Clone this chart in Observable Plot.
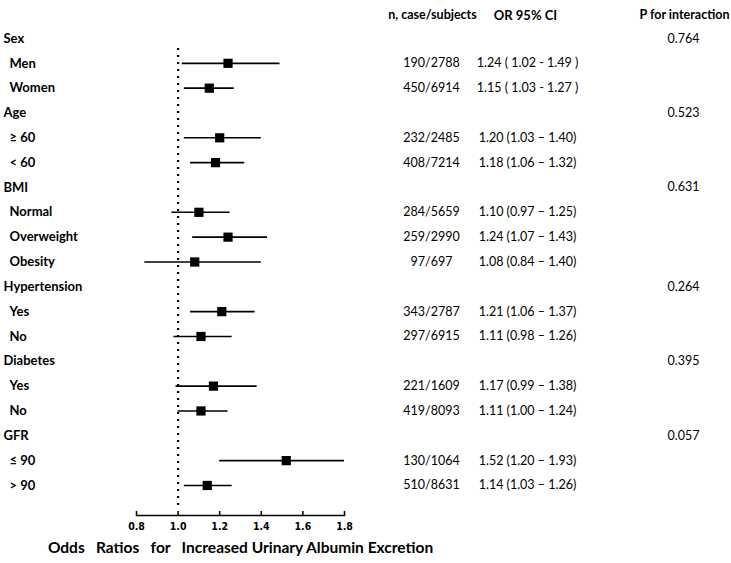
<!DOCTYPE html>
<html>
<head>
<meta charset="utf-8">
<script src="https://cdn.jsdelivr.net/npm/d3@7"></script>
<script src="https://cdn.jsdelivr.net/npm/@observablehq/plot@0.6"></script>
<style>
  html, body { margin: 0; padding: 0; background: #fff; }
  svg text { white-space: pre; }
  g[aria-label="x-axis tick label"], g[aria-label="x-axis tick label"] text {
    font-family: 'DejaVu Sans', sans-serif !important;
    font-stretch: condensed;
  }
</style>
</head>
<body>
<div id="chart"></div>
<script>
// ---- data ----
const rowLabels = ["Sex", "Men", "Women", "Age", "≥ 60", "< 60", "BMI", "Normal", "Overweight", "Obesity",
  "Hypertension", "Yes", "No", "Diabetes", "Yes", "No", "GFR", "≤ 90", "> 90"];
const isGroup = [true, false, false, true, false, false, true, false, false, false,
  true, false, false, true, false, false, true, false, false];
const orValues = [null, 1.24, 1.15, null, 1.20, 1.18, null, 1.10, 1.24, 1.08, null, 1.21, 1.11, null, 1.17, 1.11, null, 1.52, 1.14];
const ciLow = [null, 1.02, 1.03, null, 1.03, 1.06, null, 0.97, 1.07, 0.84, null, 1.06, 0.98, null, 0.99, 1.00, null, 1.20, 1.03];
const ciHigh = [null, 1.49, 1.27, null, 1.40, 1.32, null, 1.25, 1.43, 1.40, null, 1.37, 1.26, null, 1.38, 1.24, null, 1.93, 1.26];
const casesSubjects = ["", "190/2788", "450/6914", "", "232/2485", "408/7214", "", "284/5659", "259/2990", "97/697",
  "", "343/2787", "297/6915", "", "221/1609", "419/8093", "", "130/1064", "510/8631"];
const ciText = ["", "1.24 ( 1.02 - 1.49 )", "1.15 ( 1.03 - 1.27 )", "", "1.20 (1.03 – 1.40)", "1.18 (1.06 – 1.32)",
  "", "1.10 (0.97 – 1.25)", "1.24 (1.07 – 1.43)", "1.08 (0.84 – 1.40)", "", "1.21 (1.06 – 1.37)", "1.11 (0.98 – 1.26)",
  "", "1.17 (0.99 – 1.38)", "1.11 (1.00 – 1.24)", "", "1.52 (1.20 – 1.93)", "1.14 (1.03 – 1.26)"];
const pInteraction = ["0.764", "", "", "0.523", "", "", "0.631", "", "", "", "0.264", "", "", "0.395", "", "", "0.057", "", ""];
const xTicks = [0.8, 1.0, 1.2, 1.4, 1.6, 1.8];
const headers = ["n, case/subjects", "OR 95% CI", "P for interaction"];
const xTitle = "Odds   Ratios   for   Increased Urinary Albumin Excretion";

const rows = rowLabels.map((label, i) => ({
  i, label, group: isGroup[i], or: orValues[i], lo: ciLow[i], hi: ciHigh[i],
  n: casesSubjects[i], ci: ciText[i], p: pInteraction[i]
}));
const est = rows.filter(d => d.or != null);

const font = "Lato, 'Open Sans', sans-serif";

const chart = Plot.plot({
  width: 731,
  height: 563,
  marginLeft: 136,
  marginRight: 387,
  marginTop: 38,
  marginBottom: 48,
  style: { fontFamily: font, color: "#000", background: "#fff" },
  x: { domain: [0.8, 1.8] },
  y: { domain: [0, 19.21], reverse: true, axis: null },
  marks: [
    Plot.ruleX([1], { y1: 0.4, y2: 19.0, stroke: "#000", strokeWidth: 2.2, strokeDasharray: "2,5" }),
    Plot.ruleY(est, { y: "i", x1: "lo", x2: "hi", stroke: "#000", strokeWidth: 1.6, clip: true }),
    Plot.dot(est, { x: "or", y: "i", symbol: "square", r: 5.2, fill: "#000", stroke: "none" }),
    Plot.frame({ anchor: "bottom", stroke: "#000", strokeWidth: 1.5 }),
    Plot.axisX({ ticks: xTicks, tickFormat: d3.format(".1f"), tickSize: -4, tickPadding: 11,
      fontSize: 10.5, fontWeight: "bold", fontFamily: "'DejaVu Sans', sans-serif",
      stroke: "#000", strokeWidth: 1.5, label: null }),
    // left labels
    Plot.text(rows.filter(d => d.group), { y: "i", text: "label", frameAnchor: "left", dx: -133,
      textAnchor: "start", fontSize: 13, fontWeight: "bold" }),
    Plot.text(rows.filter(d => !d.group), { y: "i", text: "label", frameAnchor: "left", dx: -127,
      textAnchor: "start", fontSize: 13, fontWeight: "bold" }),
    // right columns
    Plot.text(rows, { y: "i", text: "n", frameAnchor: "right", dx: 87, textAnchor: "middle", fontSize: 12.5 }),
    Plot.text(rows, { y: "i", text: "ci", frameAnchor: "right", dx: 183, textAnchor: "middle", fontSize: 12.5 }),
    Plot.text(rows, { y: "i", text: "p", frameAnchor: "right", dx: 339, textAnchor: "middle", fontSize: 12.5 }),
    // headers
    Plot.text([headers[0]], { frameAnchor: "top-right", dx: 88, dy: -28, textAnchor: "middle", fontSize: 12.5, fontWeight: "bold" }),
    Plot.text([headers[1]], { frameAnchor: "top-right", dx: 181, dy: -28, textAnchor: "middle", fontSize: 13, fontWeight: "bold" }),
    Plot.text([headers[2]], { frameAnchor: "top-right", dx: 340, dy: -28, textAnchor: "middle", fontSize: 12.5, fontWeight: "bold" }),
    // x title
    Plot.text([xTitle], { frameAnchor: "bottom", dy: 37, textAnchor: "middle", fontSize: 15.5, fontWeight: "bold" })
  ]
});
document.getElementById("chart").appendChild(chart);
</script>
</body>
</html>
